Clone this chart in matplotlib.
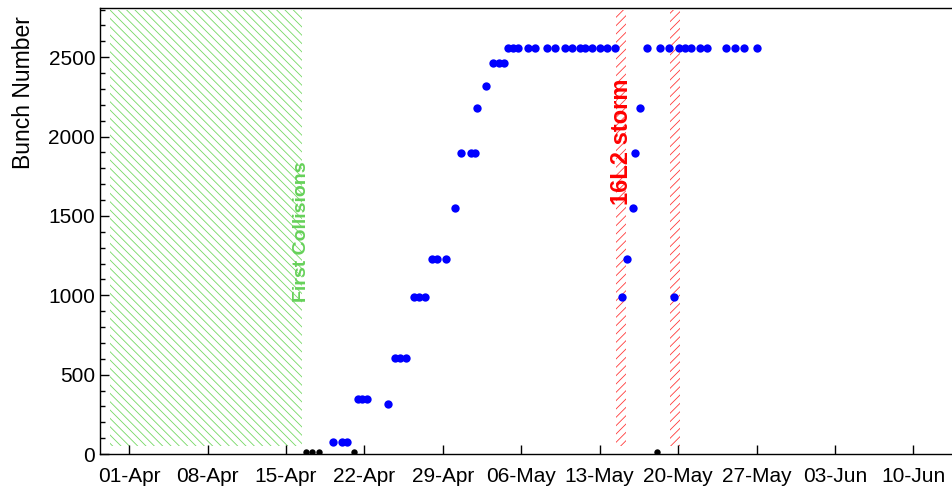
import datetime as dt
import numpy as np
import pandas as pd
import matplotlib
matplotlib.use("Agg")
import matplotlib.pyplot as plt
import matplotlib.dates as mdates
from matplotlib.ticker import MultipleLocator, FixedLocator

plt.rcParams['font.family'] = ['Liberation Sans', 'DejaVu Sans']
plt.rcParams['hatch.linewidth'] = 0.6

# days after 01-Apr-2018 00:00
start = dt.datetime(2018, 4, 1)

bunch_day = [18.2, 19.0, 19.4,
             20.4, 20.8, 21.2,
             23.1,
             23.7, 24.2, 24.7,
             25.4, 25.9, 26.4,
             27.05, 27.45, 28.3,
             29.1,
             29.6, 30.5, 30.9,
             31.07,
             31.85,
             32.5, 33.0, 33.5,
             33.84, 34.29, 34.73, 35.57, 36.22, 37.27, 38.0, 38.9, 39.55,
             40.24, 40.69, 41.29, 42.03, 42.63, 43.37,
             44.02, 44.46, 45.0, 45.15, 45.63,
             46.25, 47.38, 48.21, 48.63, 49.11, 49.62, 50.15, 50.96, 51.61,
             53.28, 54.08, 54.91, 56.07]
bunch_num = [75, 75, 75,
             345, 345, 345,
             315,
             603, 603, 603,
             987, 987, 987,
             1227, 1227, 1227,
             1551,
             1895, 1895, 1895,
             2180,
             2320,
             2462, 2462, 2462,
             2560, 2560, 2560, 2560, 2560, 2560, 2560, 2560, 2560,
             2560, 2560, 2560, 2560, 2560, 2560,
             987, 1227, 1551, 1895, 2180,
             2560, 2560, 2560, 987, 2560, 2560, 2560, 2560, 2560,
             2560, 2560, 2560, 2560]

low_day = [15.78, 16.3, 16.9, 20.1, 47.1]
low_num = [12, 12, 12, 12, 12]

# shaded periods (days after 01-Apr)
no_beam = (-1.7, 15.4)
storm_spans = [(43.46, 44.35), (48.28, 49.17)]

tick_dates = pd.date_range('2018-04-01', '2018-06-10', freq='7D')


def to_num(days):
    return mdates.date2num(start) + np.asarray(days, dtype=float)


fig = plt.figure(figsize=(9.53, 4.92), dpi=100)
ax = fig.add_axes([100 / 953, 38 / 492, 853 / 953, 446 / 492])

ax.fill_between(to_num(no_beam), 50, 2800, facecolor='none', edgecolor='#74d864',
                hatch='\\\\\\\\', linewidth=0, zorder=1)
for a, b in storm_spans:
    ax.fill_between(to_num([a, b]), 50, 2800, facecolor='none', edgecolor='#ff3a3a',
                    hatch='////', linewidth=0, zorder=1)

ax.plot(to_num(bunch_day), bunch_num, 'o', color='#0000ff', markersize=6,
        markeredgewidth=0, zorder=3)
ax.plot(to_num(low_day), low_num, 'o', color='black', markersize=4.6,
        markeredgewidth=0, zorder=3)

ax.text(to_num(no_beam[1]), 955, 'First Collisions', rotation=90, color='#66d15a',
        fontsize=14, fontweight='bold', ha='center', va='bottom', zorder=4)
ax.text(to_num((storm_spans[0][0] + storm_spans[0][1]) / 2), 1568, '16L2 storm',
        rotation=90, color='#ff0000', fontsize=17, fontweight='bold',
        ha='center', va='bottom', zorder=4)

ax.set_xlim(to_num(-2.61), to_num(73.54))
ax.set_ylim(0, 2810)

ax.xaxis.set_major_locator(FixedLocator(mdates.date2num(tick_dates.to_pydatetime())))
ax.xaxis.set_major_formatter(mdates.DateFormatter('%d-%b'))
ax.yaxis.set_major_locator(MultipleLocator(500))
ax.yaxis.set_minor_locator(MultipleLocator(100))

ax.tick_params(axis='both', which='both', direction='in', top=False, right=False,
               labelsize=15, width=1)
ax.tick_params(axis='x', which='major', length=6.5, pad=9)
ax.tick_params(axis='y', which='major', length=6.5, pad=3.5)
ax.tick_params(axis='y', which='minor', length=3.5)

for s in ['left', 'bottom', 'top']:
    ax.spines[s].set_linewidth(1.0)
ax.spines['right'].set_visible(False)

ax.set_ylabel('Bunch Number', fontsize=16.5)
ax.yaxis.set_label_coords(-0.076, 0.81)

fig.savefig('out.png', dpi=100)
